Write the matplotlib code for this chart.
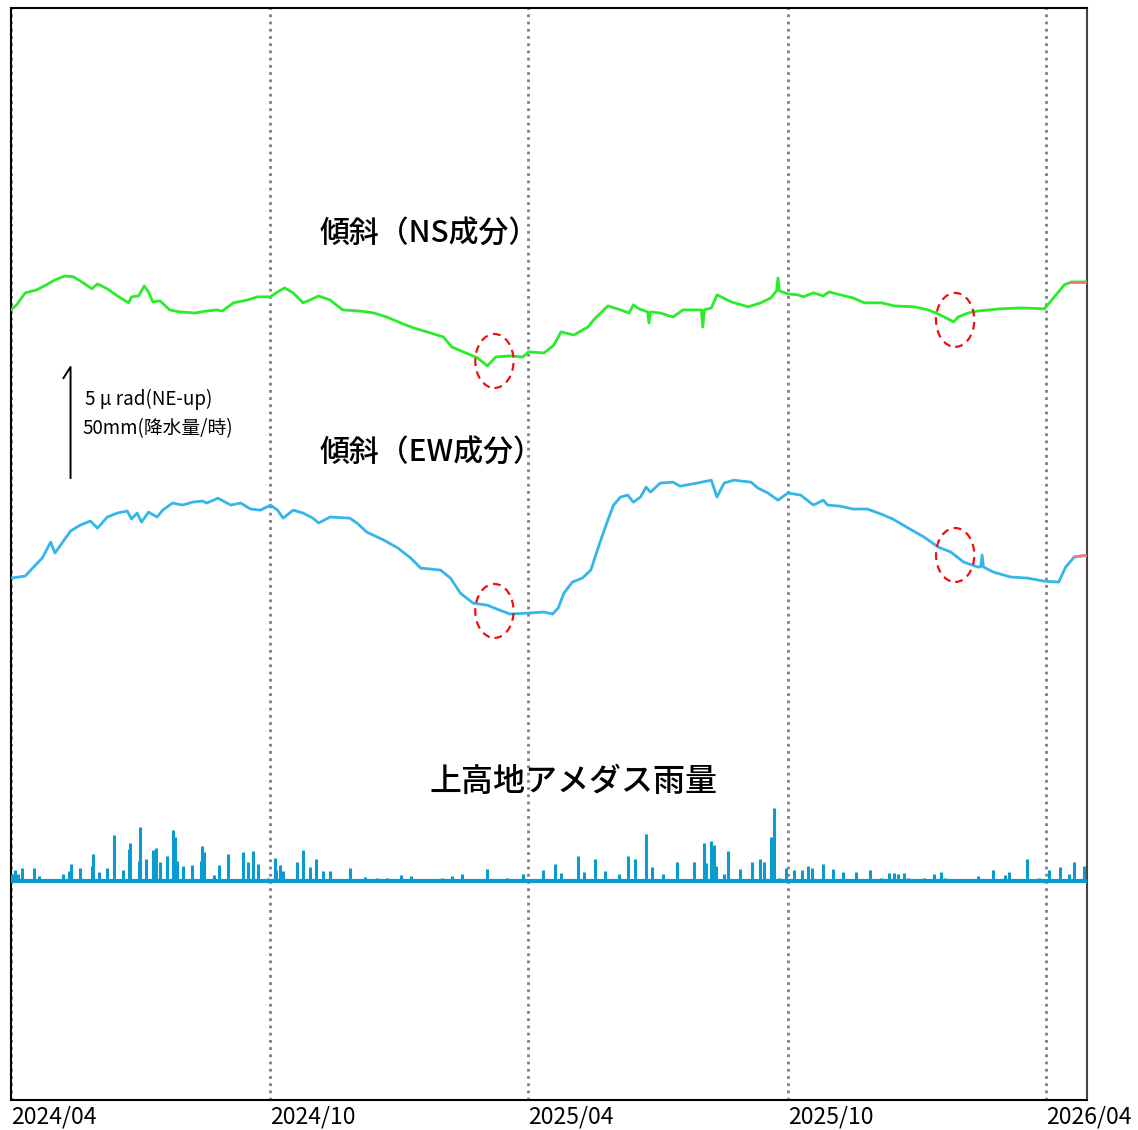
import numpy as np
import matplotlib.pyplot as plt
from matplotlib.patches import Ellipse
import matplotlib.dates as mdates

plt.rcParams['font.family'] = ['Noto Sans CJK JP', 'DejaVu Sans']

START = np.datetime64('2024-04-01')

# NS tilt (micro-radian, relative to first sample) against days since START
ns_days = [0, 4, 10, 18, 25, 31, 38, 44, 50, 57, 61, 68, 75, 83, 85, 90, 94, 97, 100, 105,
           112, 119, 130, 138, 145, 149, 157, 167, 174, 183, 188, 193, 199, 206, 211, 217, 225,
           234, 246, 256, 265, 275, 284, 296, 305, 311, 319, 329, 336, 342, 352, 361, 365, 376,
           383, 388, 397, 407, 411, 421, 430, 436, 439, 443, 449, 450, 451, 458, 467, 474, 484,
           487, 488, 489, 494, 498, 508, 520, 529, 536, 540, 541, 542, 548, 555, 559, 566, 573,
           577, 585, 594, 602, 614, 623, 637, 647, 654, 665, 668, 675, 682, 698, 712, 729, 736,
           743, 748, 760]
ns_tilt = [0.00, 0.23, 0.77, 0.90, 1.13, 1.35, 1.53, 1.49, 1.26, 0.95, 1.17, 0.95, 0.63, 0.32,
           0.59, 0.63, 1.08, 0.81, 0.36, 0.41, 0.00, -0.09, -0.14, -0.05, 0.00, -0.05, 0.32,
           0.45, 0.59, 0.59, 0.81, 0.99, 0.77, 0.32, 0.45, 0.63, 0.45, 0.00, -0.05, -0.14, -0.32,
           -0.59, -0.81, -1.04, -1.22, -1.67, -1.89, -2.16, -2.52, -2.12, -2.07, -2.12, -1.89,
           -1.94, -1.58, -0.99, -1.13, -0.77, -0.45, 0.18, 0.00, -0.14, 0.23, 0.05, -0.09, -0.59,
           -0.09, -0.14, -0.32, 0.00, 0.00, 0.00, -0.77, 0.00, 0.09, 0.68, 0.36, 0.14, 0.32, 0.54,
           0.86, 1.44, 0.86, 0.72, 0.68, 0.59, 0.77, 0.63, 0.81, 0.68, 0.54, 0.32, 0.32, 0.18,
           0.14, 0.00, -0.18, -0.54, -0.32, -0.14, -0.05, 0.05, 0.09, 0.05, 0.59, 1.13, 1.26,
           1.26]
ns_flagged = [(480, 486), (507, 512), (517, 523), (748, 760)]

# EW tilt (micro-radian, relative to first sample)
ew_days = [0, 10, 16, 22, 28, 31, 36, 42, 49, 56, 61, 68, 75, 82, 85, 89, 92, 97, 103, 107,
           114, 121, 128, 135, 138, 146, 155, 162, 169, 176, 183, 188, 192, 199, 206, 213, 217,
           225, 239, 244, 251, 263, 273, 282, 289, 303, 310, 317, 326, 336, 343, 352, 364, 376,
           382, 386, 390, 396, 403, 409, 412, 416, 421, 425, 430, 435, 439, 444, 448, 451, 458,
           467, 472, 484, 494, 498, 503, 510, 522, 527, 534, 541, 548, 557, 566, 573, 576, 585,
           594, 604, 614, 622, 633, 644, 654, 663, 672, 682, 684, 685, 686, 693, 705, 717, 729,
           739, 744, 750, 760]
ew_tilt = [0.00, 0.09, 0.50, 0.90, 1.62, 1.13, 1.58, 2.12, 2.39, 2.57, 2.25, 2.75, 2.93, 3.02,
           2.66, 2.93, 2.52, 2.97, 2.75, 3.06, 3.38, 3.29, 3.42, 3.47, 3.38, 3.60, 3.29, 3.38,
           3.11, 3.06, 3.29, 3.06, 2.70, 3.06, 2.93, 2.70, 2.48, 2.75, 2.70, 2.48, 2.07, 1.71,
           1.35, 0.90, 0.45, 0.36, 0.00, -0.68, -1.13, -1.22, -1.40, -1.62, -1.58, -1.53, -1.62,
           -1.35, -0.68, -0.18, 0.00, 0.36, 0.95, 1.71, 2.61, 3.29, 3.65, 3.74, 3.42, 3.65, 4.10,
           3.87, 4.28, 4.32, 4.14, 4.28, 4.41, 3.65, 4.28, 4.41, 4.32, 4.05, 3.83, 3.51, 3.83,
           3.74, 3.29, 3.51, 3.29, 3.24, 3.11, 3.11, 2.88, 2.66, 2.25, 1.85, 1.40, 1.17, 0.72,
           0.50, 0.50, 1.04, 0.50, 0.27, 0.05, 0.00, -0.14, -0.18, 0.50, 0.95, 1.04]
ew_flagged = [(472, 478), (501, 506), (515, 522), (750, 760)]

# Kamikochi AMeDAS hourly rainfall peaks (mm)
rain_days = [1, 3, 5, 8, 16, 20, 37, 41, 42, 49, 57, 58, 62, 68, 73, 79, 83, 84, 90, 91, 95,
             100, 101, 102, 105, 110, 114, 116, 117, 121, 128, 134, 135, 136, 143, 147, 153, 164,
             167, 171, 174, 181, 186, 187, 190, 192, 202, 206, 211, 215, 220, 225, 239, 250, 258,
             265, 275, 282, 304, 311, 318, 336, 350, 361, 375, 384, 388, 400, 404, 412, 419, 429,
             435, 440, 448, 452, 460, 470, 482, 489, 490, 494, 496, 497, 503, 506, 514, 523, 528,
             531, 536, 537, 538, 542, 547, 552, 558, 562, 565, 573, 580, 587, 596, 606, 614, 619,
             623, 626, 630, 633, 644, 651, 656, 659, 682, 693, 701, 704, 717, 725, 732, 740, 746,
             750, 757]
rain_mm = [3.0, 5.0, 3.2, 5.9, 5.9, 2.3, 3.2, 4.5, 7.7, 5.9, 6.8, 12.2, 4.1, 5.9, 20.7, 5.0,
           14.4, 17.1, 9.0, 24.3, 9.9, 14.0, 9.5, 14.9, 8.6, 11.3, 23.0, 19.8, 9.0, 6.8, 7.2,
           9.0, 15.8, 13.1, 2.7, 7.2, 12.2, 13.1, 8.6, 13.5, 7.7, 1.4, 10.4, 5.0, 7.2, 4.5, 8.6,
           14.0, 6.3, 9.9, 4.5, 4.5, 5.9, 1.8, 1.4, 1.4, 2.7, 2.3, 1.4, 2.3, 3.2, 5.4, 1.4, 3.2,
           5.0, 7.7, 3.6, 11.3, 4.1, 9.9, 4.5, 3.2, 11.3, 9.9, 21.2, 6.3, 3.2, 8.6, 8.6, 17.1,
           8.0, 18.0, 16.2, 7.0, 3.2, 13.5, 5.4, 8.6, 9.9, 8.6, 19.8, 10.0, 32.9, 1.4, 5.9, 5.0,
           5.0, 6.8, 5.9, 7.7, 5.4, 4.1, 4.1, 5.0, 1.4, 3.6, 3.6, 3.2, 3.6, 1.4, 1.4, 3.2, 4.1,
           1.4, 2.3, 5.0, 2.7, 4.1, 9.9, 1.4, 5.0, 6.3, 3.2, 8.6, 6.8]

tick_months = ['2024-04', '2024-10', '2025-04', '2025-10', '2026-04']
tick_labels = ['2024/04', '2024/10', '2025/04', '2025/10', '2026/04']

# vertical placement of each trace on the shared axis (micro-radian)
NS_OFFSET = 35.59
EW_OFFSET = 23.51
RAIN_BASE = 9.86
MM_PER_URAD = 10.0  # 5 urad on the scale bar = 50 mm

NS_COLOR = '#2bec2b'
EW_COLOR = '#35b6e8'
RAIN_COLOR = '#0a9bd0'
FLAG_COLOR = '#f07a7a'


def to_dates(days):
    return START + np.array(days).astype('timedelta64[D]')


def draw_trace(ax, days, tilt, offset, color, flagged):
    x = to_dates(days)
    y = offset + np.array(tilt)
    ax.plot(x, y, color=color, lw=2.0, zorder=3)
    d = np.array(days)
    for d0, d1 in flagged:
        m = (d >= d0) & (d <= d1)
        ax.plot(x[m], y[m], color=FLAG_COLOR, lw=2.0, zorder=4)


fig = plt.figure(figsize=(11.38, 11.30), dpi=100)
ax = fig.add_axes([11 / 1138, 30 / 1130, 1076 / 1138, 1092 / 1130])

draw_trace(ax, ns_days, ns_tilt, NS_OFFSET, NS_COLOR, ns_flagged)
draw_trace(ax, ew_days, ew_tilt, EW_OFFSET, EW_COLOR, ew_flagged)

# rainfall: zero line plus hourly peaks
ax.axhline(RAIN_BASE, color=RAIN_COLOR, lw=3.0, zorder=3)
rain_top = RAIN_BASE + np.array(rain_mm) / MM_PER_URAD
ax.vlines(to_dates(rain_days), RAIN_BASE, rain_top, color=RAIN_COLOR, lw=2.2, zorder=3)

# dashed red circles around the events of interest
for day, yc in [(341, 33.29), (666, 35.14), (341, 22.03), (666, 24.55)]:
    e = Ellipse((mdates.date2num(to_dates([day])[0]), yc), width=27, height=2.43,
                fill=False, edgecolor='#ee1111', lw=1.6, ls=(0, (3.5, 2.5)), zorder=5)
    ax.add_patch(e)

# scale bar: 5 urad / 50 mm
bar_x = to_dates([42, 42, 37])
ax.plot(bar_x, [28.02, 33.02, 32.52], color='black', lw=1.4, zorder=5)
ax.text(0.0688, 0.642, '5 μ rad(NE-up)', transform=ax.transAxes, fontsize=13.5,
        va='center', ha='left')
ax.text(0.066, 0.6145, '50mm(降水量/時)', transform=ax.transAxes, fontsize=13.5,
        va='center', ha='left')

ax.text(0.287, 0.793, '傾斜（NS成分）', transform=ax.transAxes, fontsize=21.5,
        va='center', ha='left', fontweight='medium')
ax.text(0.287, 0.5925, '傾斜（EW成分）', transform=ax.transAxes, fontsize=21.5,
        va='center', ha='left', fontweight='medium')
ax.text(0.389, 0.291, '上高地アメダス雨量', transform=ax.transAxes, fontsize=23,
        va='center', ha='left', fontweight='medium')

ticks = [np.datetime64(m + '-01') for m in tick_months]
for t in ticks:
    ax.axvline(t, color='#808080', lw=2.0, ls=(0, (1, 1.6)), zorder=1)
ax.set_xticks(ticks)
ax.set_xticklabels(tick_labels, ha='left', fontsize=16.5)
ax.tick_params(axis='x', length=0, pad=4)
ax.set_yticks([])
ax.set_xlim(START, np.datetime64('2026-04-30'))
ax.set_ylim(0, 49.19)
for side in ['left', 'bottom', 'top']:
    ax.spines[side].set_color('black')
ax.spines['right'].set_color('#444444')
for s in ax.spines.values():
    s.set_linewidth(1.5)

plt.savefig('out.png', dpi=100)
